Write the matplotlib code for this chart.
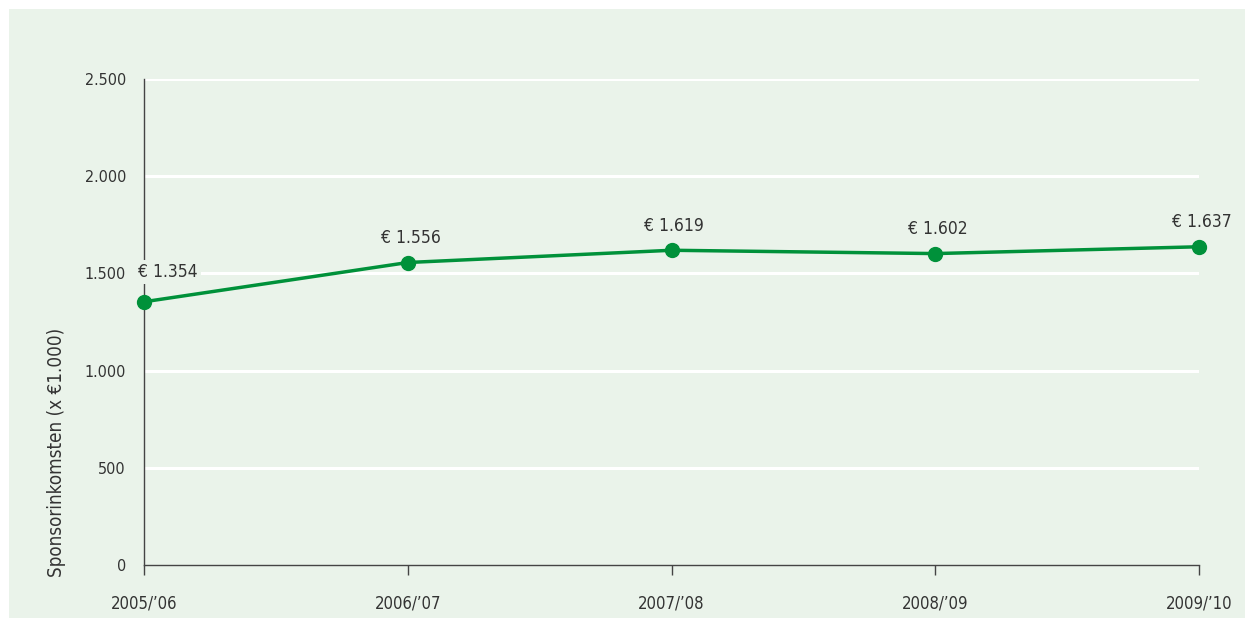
import matplotlib
matplotlib.use("Agg")
import matplotlib.pyplot as plt
from matplotlib.patches import Rectangle

seasons = ["2005/\u201906", "2006/\u201907", "2007/\u201908", "2008/\u201909", "2009/\u201910"]
income = [1354, 1556, 1619, 1602, 1637]
value_labels = ["\u20ac 1.354", "\u20ac 1.556", "\u20ac 1.619", "\u20ac 1.602", "\u20ac 1.637"]
yticks = [0, 500, 1000, 1500, 2000, 2500]
ytick_labels = ["0", "500", "1.000", "1.500", "2.000", "2.500"]

FONT = ["Liberation Sans Narrow", "DejaVu Sans"]
plt.rcParams['font.family'] = FONT
plt.rcParams['font.stretch'] = 'condensed'

W, H = 1245, 618
bg = "#EAF3EA"
green = "#00913A"
textc = "#333333"

fig = plt.figure(figsize=(W / 100, H / 100), dpi=100, facecolor="white")
fig.patches.append(Rectangle((9 / W, 0), 1 - 9 / W, 1 - 9 / H, transform=fig.transFigure,
                             facecolor=bg, edgecolor="none", zorder=-10))

ax = fig.add_axes([144 / W, (H - 565) / H, (1199 - 144) / W, (565 - 79) / H])
ax.set_zorder(5)
ax.set_facecolor("none")
x = list(range(len(seasons)))
ax.set_xlim(0, len(seasons) - 1)
ax.set_ylim(0, 2500)

for yt in yticks[1:]:
    ax.axhline(yt, color="white", lw=2.2, zorder=1)

ax.plot(x, income, color=green, lw=2.5, marker="o", markersize=10, zorder=3, clip_on=False)

for i, (xi, yi, lab) in enumerate(zip(x, income, value_labels)):
    if i == 0:
        ax.annotate(lab, (xi, yi), xytext=(-4, 15), textcoords="offset points", ha="left", va="bottom",
                    fontsize=12.5, color=textc, zorder=4,
                    bbox=dict(boxstyle="square,pad=0.15", facecolor=bg, edgecolor="none"))
    else:
        ax.annotate(lab, (xi, yi), xytext=(2, 11), textcoords="offset points", ha="center", va="bottom",
                    fontsize=12.5, color=textc, zorder=4)

ax.set_yticks(yticks)
ax.set_yticklabels(ytick_labels)
ax.set_xticks(x)
ax.set_xticklabels(seasons)
ax.tick_params(axis="y", length=0, pad=13, labelsize=11.5, labelcolor=textc)
ax.tick_params(axis="x", length=7, width=1, color="#444444", pad=14, labelsize=12, labelcolor=textc)

for s in ["top", "right"]:
    ax.spines[s].set_visible(False)
for s in ["left", "bottom"]:
    ax.spines[s].set_color("#444444")
    ax.spines[s].set_linewidth(1)
    ax.spines[s].set_zorder(2)

fig.text(57 / W, 1 - 452 / H, "Sponsorinkomsten (x \u20ac1.000)", rotation=90, ha="center", va="center",
         fontsize=13.5, color=textc)

fig.savefig("out.png", dpi=100, facecolor="white")
